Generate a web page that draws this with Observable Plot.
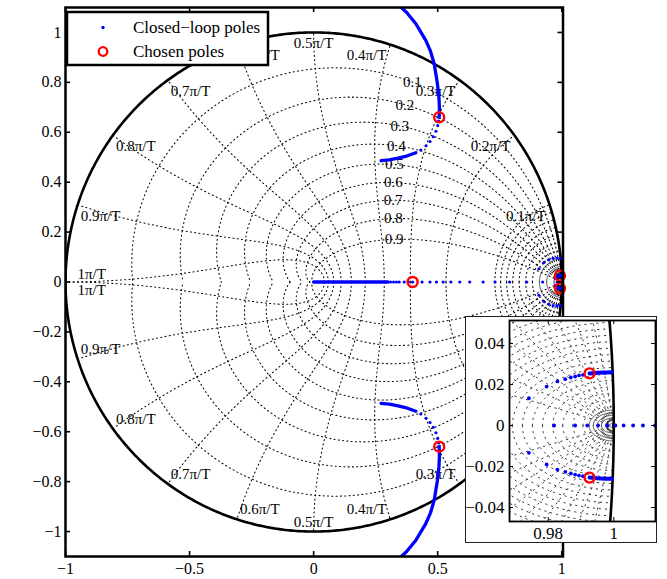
<!DOCTYPE html>
<html><head><meta charset="utf-8">
<script src="https://cdn.jsdelivr.net/npm/d3@7"></script>
<script src="https://cdn.jsdelivr.net/npm/@observablehq/plot@0.6"></script>
<style>
body{margin:0;background:#fff;}
#wrap{position:relative;width:667px;height:579px;overflow:hidden;}
#inset{position:absolute;left:465px;top:316px;width:192px;height:227px;box-sizing:border-box;border:1px solid #222;background:#fff;}
#inset svg, #main svg{display:block;}
#wrap svg text{font-family:'Liberation Serif','Times New Roman',serif !important;}
</style></head><body>
<div id="wrap"><div id="main"></div><div id="inset"></div></div>
<script>
// ---------------- data ----------------
const xTicks = [-1, -0.5, 0, 0.5, 1];
const yTicks = [-1, -0.8, -0.6, -0.4, -0.2, 0, 0.2, 0.4, 0.6, 0.8, 1];
const insetXTicks = [0.98, 1];
const insetYTicks = [-0.04, -0.02, 0, 0.02, 0.04];

// z-grid: damping ratios and natural frequencies (units of pi/T)
const zetaValues = [0.1, 0.2, 0.3, 0.4, 0.5, 0.6, 0.7, 0.8, 0.9];
const wnValues = [0.1, 0.2, 0.3, 0.4, 0.5, 0.6, 0.7, 0.8, 0.9, 1];
const wnFineMain = [0.01, 0.02, 0.03, 0.04, 0.05, 0.06, 0.07, 0.08, 0.09];
const wnFineInset = [0.0004, 0.0008, 0.0012, 0.0016, 0.002, 0.0024, 0.003, 0.004,
  0.005, 0.006, 0.007, 0.008, 0.009, 0.01, 0.011, 0.012, 0.013, 0.014, 0.015, 0.016, 0.017, 0.018, 0.019, 0.02];

// closed-loop poles (upper half; lower half is the mirror image)
const realDense = [[0, 0], [0.30, 0]];
const realDots = [0.31, 0.322, 0.334, 0.345, 0.365, 0.382, 0.399, 0.437, 0.469, 0.495, 0.522, 0.553,
  0.589, 0.629, 0.683, 0.731, 0.790, 0.859, 0.923, 0.9818, 0.9882, 0.9919, 0.9952, 0.998, 1.0005,
  1.003, 1.0059, 1.0089, 1.0126];
const farDenseA = [[0.272, 0.486], [0.305, 0.489], [0.34, 0.496], [0.37, 0.503], [0.395, 0.512], [0.412, 0.518]];
const farDots = [[0.432, 0.529], [0.453, 0.546], [0.469, 0.563], [0.482, 0.582], [0.493, 0.604], [0.500, 0.627], [0.504, 0.645]];
const farDenseB = [[0.506, 0.66], [0.507, 0.70], [0.505, 0.74], [0.499, 0.794], [0.486, 0.874], [0.471, 0.925],
  [0.452, 0.968], [0.412, 1.035], [0.375, 1.08], [0.345, 1.108], [0.32, 1.13]];
const nearArcDots = [[0.908, 0.053], [0.928, 0.078], [0.948, 0.089], [0.965, 0.095], [0.981, 0.096], [0.994, 0.095]];
const nearDots = [[0.9741, 0.0133], [0.9795, 0.019], [0.9828, 0.0215], [0.9852, 0.0226], [0.9869, 0.0234],
  [0.9882, 0.0239], [0.9894, 0.0244], [0.9906, 0.0247]];
const nearDense = [[0.9926, 0.0254], [0.995, 0.0257], [0.9975, 0.0259], [0.9995, 0.026]];
const chosenPoles = [[0.399, 0], [0.506, 0.66], [0.506, -0.66], [0.9926, 0.0254], [0.9926, -0.0254]];

const legendLabels = ["Closed\u2212loop poles", "Chosen poles"];

// ---------------- helpers ----------------
const FONT = "'Liberation Serif', 'Times New Roman', serif";
const BLUE = "#0000ff", RED = "#ff0000";
const fmt = d => d === 0 ? "0" : (d < 0 ? "\u2212" : "") + String(Math.abs(d));
const mirror = pts => pts.map(([x, y]) => [x, -y]);
const both = pts => [pts, mirror(pts)];
function wnCurve(wn, n) {
  const a = wn * Math.PI, pts = [];
  for (let i = 0; i <= n; i++) {
    const phi = (Math.PI / 2) * i / n;
    const r = Math.exp(-a * Math.cos(phi)), t = a * Math.sin(phi);
    pts.push([r * Math.cos(t), r * Math.sin(t)]);
  }
  return pts;
}
function zetaCurve(zeta, thetaMax, n) {
  const k = zeta / Math.sqrt(1 - zeta * zeta), pts = [];
  for (let i = 0; i <= n; i++) {
    const t = thetaMax * i / n, r = Math.exp(-k * t);
    pts.push([r * Math.cos(t), r * Math.sin(t)]);
  }
  return pts;
}
function rows(curves) {
  const out = [];
  curves.forEach((c, id) => c.forEach(([x, y]) => out.push({x, y, id})));
  return out;
}
const unitCircle = d3.range(0, 721).map(i => [Math.cos(i / 720 * 2 * Math.PI), Math.sin(i / 720 * 2 * Math.PI)]);
const withMirror = pts => pts.concat(mirror(pts).filter(d => d[1] !== 0));

// ---------------- main plot ----------------
const W = 667, H = 579;
const M = {top: 7, right: 104.5, bottom: 23, left: 65};
const xDomain = [-1, 1.005], yDomain = [-1.1, 1.1];
const PW = W - M.left - M.right, PH = H - M.top - M.bottom;

const dotStyle = {stroke: "#000", strokeWidth: 1.05, strokeDasharray: "1.1,3.2", clip: true};
const insetDotStyle = {stroke: "#111", strokeWidth: 0.85, strokeDasharray: "1.4,4.6", clip: true};
const mainDotted = [], mainSolid = [];
zetaValues.forEach(z => mainDotted.push(...both(zetaCurve(z, Math.PI, 300))));
wnValues.forEach(w => mainDotted.push(...both(wnCurve(w, 160))));
wnFineMain.forEach(w => (w <= 0.03 ? mainSolid : mainDotted).push(...both(wnCurve(w, 80))));

const wnLabelRows = [];
wnValues.forEach(wn => {
  const a = wn * Math.PI, c = Math.cos(a), s = Math.sin(a);
  const h = c > 0.01 ? "end" : c < -0.01 ? "start" : "middle";
  const text = `${wn}\u03c0/T`;
  wnLabelRows.push({x: c, y: s, text, h, half: "upper", pi: wn === 1});
  wnLabelRows.push({x: c, y: -s, text, h, half: "lower", pi: wn === 1});
});
const labelMarks = [];
for (const h of ["start", "middle", "end"]) for (const half of ["upper", "lower"]) for (const pi of [false, true]) {
  const data = wnLabelRows.filter(d => d.h === h && d.half === half && d.pi === pi);
  if (!data.length) continue;
  const up = half === "upper";
  labelMarks.push(Plot.text(data, {
    x: "x", y: "y", text: "text", textAnchor: h,
    lineAnchor: pi ? (up ? "bottom" : "top") : (up ? "top" : "bottom"),
    dx: pi ? 12 : h === "end" ? -4 : h === "start" ? 3 : 0,
    dy: pi ? (up ? -3 : 2) : (up ? 5 : -5),
    fontSize: 15, fontFamily: FONT, fill: "#000"
  }));
}
const zetaLabelRows = zetaValues.map(z => {
  const a = 0.355 * Math.PI, t = a * Math.sqrt(1 - z * z), r = Math.exp(-a * z);
  return {x: r * Math.cos(t), y: r * Math.sin(t), text: `${z}`};
});

function locusMarks(dotR, lineW, circleR, filt) {
  const denseLines = [realDense, ...both(farDenseA), ...both(farDenseB), ...both(nearDense)];
  const dots = [...realDots.map(x => [x, 0]), ...withMirror(farDots), ...withMirror(nearArcDots), ...withMirror(nearDots)];
  return [
    Plot.line(rows(denseLines), {x: "x", y: "y", z: "id", stroke: BLUE, strokeWidth: lineW, clip: true}),
    Plot.dot(dots, {x: d => d[0], y: d => d[1], r: dotR, fill: BLUE, stroke: "none", filter: filt}),
    Plot.dot(chosenPoles, {x: d => d[0], y: d => d[1], r: circleR, fill: "none", stroke: RED, strokeWidth: 2.4, filter: filt})
  ];
}

const mainInside = d => d[0] >= xDomain[0] && d[0] <= xDomain[1] && d[1] >= yDomain[0] && d[1] <= yDomain[1];
const mainSvg = Plot.plot({
  width: W, height: H,
  marginTop: M.top, marginRight: M.right, marginBottom: M.bottom, marginLeft: M.left,
  x: {domain: xDomain, label: null},
  y: {domain: yDomain, label: null},
  style: {fontFamily: FONT, background: "white", color: "black", overflow: "visible"},
  marks: [
    Plot.line(rows(mainDotted), {x: "x", y: "y", z: "id", ...dotStyle}),
    Plot.line(rows(mainSolid), {x: "x", y: "y", z: "id", stroke: "#000", strokeWidth: 0.7, clip: true}),
    Plot.line(unitCircle, {x: d => d[0], y: d => d[1], stroke: "#000", strokeWidth: 2.6, clip: true}),
    ...labelMarks,
    Plot.text(zetaLabelRows, {x: "x", y: "y", text: "text", fontSize: 15, fontFamily: FONT, fill: "#000"}),
    ...locusMarks(1.6, 3.3, 5, mainInside),
    Plot.frame({stroke: "#000", strokeWidth: 2.5}),
    Plot.tickX(xTicks, {x: d => d, insetTop: PH - 5, stroke: "#000", strokeWidth: 1.6}),
    Plot.tickX(xTicks, {x: d => d, insetBottom: PH - 5, stroke: "#000", strokeWidth: 1.6}),
    Plot.tickY(yTicks, {y: d => d, insetRight: PW - 5, stroke: "#000", strokeWidth: 1.6}),
    Plot.tickY(yTicks, {y: d => d, insetLeft: PW - 5, stroke: "#000", strokeWidth: 1.6}),
    Plot.axisX(xTicks, {anchor: "bottom", tickSize: 0, tickPadding: 6, fontSize: 16, fontFamily: FONT, label: null, tickFormat: fmt}),
    Plot.axisY(yTicks, {anchor: "left", tickSize: 0, tickPadding: 4, fontSize: 16, fontFamily: FONT, label: null, tickFormat: fmt})
  ]
});

// legend drawn inside the axes
const lg = d3.select(mainSvg).append("g").attr("font-family", FONT).attr("font-size", 17).attr("text-anchor", "start");
lg.append("rect").attr("x", 67).attr("y", 12).attr("width", 201).attr("height", 53)
  .attr("fill", "white").attr("stroke", "black").attr("stroke-width", 2.5);
lg.append("circle").attr("cx", 103).attr("cy", 27.5).attr("r", 1.7).attr("fill", BLUE);
lg.append("circle").attr("cx", 103).attr("cy", 51.5).attr("r", 4.3).attr("fill", "none").attr("stroke", RED).attr("stroke-width", 2.3);
legendLabels.forEach((t, i) => lg.append("text").attr("x", 133).attr("y", 27.5 + i * 24).attr("dy", "0.35em")
  .attr("text-anchor", "start").attr("fill", "black").text(t));
document.getElementById("main").appendChild(mainSvg);

// ---------------- inset ----------------
const IW = 190, IH = 225;
const IM = {top: 3, right: 1, bottom: 21, left: 43};
const ixDomain = [0.96818, 1.01273], iyDomain = [-0.0468, 0.0512];
const IPW = IW - IM.left - IM.right, IPH = IH - IM.top - IM.bottom;
const insetDotted = [], insetSolid = [];
zetaValues.forEach(z => insetDotted.push(...both(zetaCurve(z, 0.1, 120))));
wnFineInset.forEach(w => (w <= 0.0024 ? insetSolid : insetDotted).push(...both(wnCurve(w, 100))));
const insetInside = d => d[0] >= ixDomain[0] && d[0] <= ixDomain[1] && d[1] >= iyDomain[0] && d[1] <= iyDomain[1];

const insetSvg = Plot.plot({
  width: IW, height: IH,
  marginTop: IM.top, marginRight: IM.right, marginBottom: IM.bottom, marginLeft: IM.left,
  x: {domain: ixDomain, label: null},
  y: {domain: iyDomain, label: null},
  style: {fontFamily: FONT, background: "white", color: "black", overflow: "visible"},
  marks: [
    Plot.line(rows(insetDotted), {x: "x", y: "y", z: "id", ...insetDotStyle}),
    Plot.line(rows(insetSolid), {x: "x", y: "y", z: "id", stroke: "#000", strokeWidth: 0.7, clip: true}),
    Plot.line(unitCircle, {x: d => d[0], y: d => d[1], stroke: "#000", strokeWidth: 2.6, clip: true}),
    ...locusMarks(1.9, 4, 5, insetInside),
    Plot.frame({stroke: "#000", strokeWidth: 1.8}),
    Plot.tickX(insetXTicks, {x: d => d, insetTop: IPH - 4, stroke: "#000", strokeWidth: 1}),
    Plot.tickX(insetXTicks, {x: d => d, insetBottom: IPH - 4, stroke: "#000", strokeWidth: 1}),
    Plot.tickY(insetYTicks, {y: d => d, insetRight: IPW - 4, stroke: "#000", strokeWidth: 1}),
    Plot.tickY(insetYTicks, {y: d => d, insetLeft: IPW - 4, stroke: "#000", strokeWidth: 1}),
    Plot.axisX(insetXTicks, {anchor: "bottom", tickSize: 0, tickPadding: 5, fontSize: 17, fontFamily: FONT, label: null, tickFormat: fmt}),
    Plot.axisY(insetYTicks, {anchor: "left", tickSize: 0, tickPadding: 5, fontSize: 17, fontFamily: FONT, label: null, tickFormat: fmt})
  ]
});
document.getElementById("inset").appendChild(insetSvg);
</script>
</body></html>
